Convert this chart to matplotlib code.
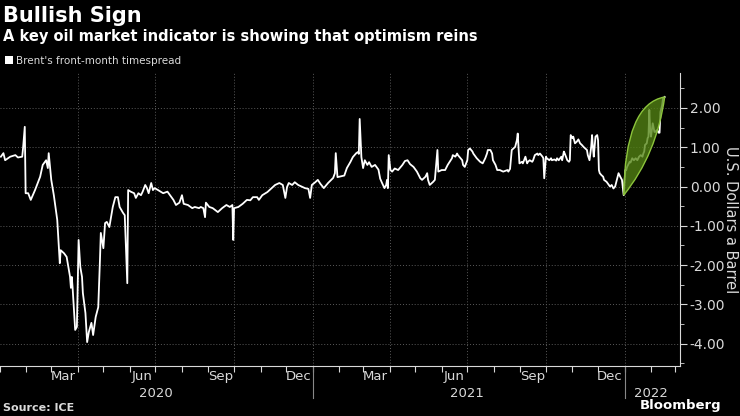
import matplotlib
matplotlib.use("Agg")
import matplotlib.pyplot as plt
import matplotlib.dates as mdates
from matplotlib.path import Path
from matplotlib.patches import PathPatch
import matplotlib.transforms as mtransforms
import numpy as np
import pandas as pd

# Brent front-month timespread, USD a barrel
dates = [
    # 2020
    "2020-01-02", "2020-01-05", "2020-01-07", "2020-01-13", "2020-01-19", "2020-01-22", "2020-01-27", "2020-01-28", "2020-01-30", "2020-01-31",
    "2020-02-03", "2020-02-06", "2020-02-11", "2020-02-17", "2020-02-20", "2020-02-24", "2020-02-26", "2020-02-27",
    "2020-03-01", "2020-03-04", "2020-03-08", "2020-03-11", "2020-03-12", "2020-03-16", "2020-03-19", "2020-03-23", "2020-03-24", "2020-03-25", "2020-03-26", "2020-03-29", "2020-03-31",
    "2020-04-02", "2020-04-04", "2020-04-06", "2020-04-07", "2020-04-10", "2020-04-12", "2020-04-14", "2020-04-17", "2020-04-19", "2020-04-22", "2020-04-25", "2020-04-27", "2020-04-28",
    "2020-05-01", "2020-05-03", "2020-05-05", "2020-05-08", "2020-05-10", "2020-05-12", "2020-05-15", "2020-05-18", "2020-05-20", "2020-05-24", "2020-05-26", "2020-05-29", "2020-05-30",
    "2020-06-02", "2020-06-06", "2020-06-08", "2020-06-11", "2020-06-14", "2020-06-16", "2020-06-19", "2020-06-21", "2020-06-23", "2020-06-26", "2020-06-28", "2020-06-30",
    "2020-07-04", "2020-07-10", "2020-07-15", "2020-07-18", "2020-07-22", "2020-07-25", "2020-07-29",
    "2020-08-01", "2020-08-03", "2020-08-08", "2020-08-13", "2020-08-16", "2020-08-21", "2020-08-23", "2020-08-26", "2020-08-28", "2020-08-29",
    "2020-09-02", "2020-09-06", "2020-09-12", "2020-09-17", "2020-09-22", "2020-09-26", "2020-09-29", "2020-09-30",
    "2020-10-01", "2020-10-06", "2020-10-11", "2020-10-16", "2020-10-20", "2020-10-23", "2020-10-28", "2020-10-30",
    "2020-11-03", "2020-11-09", "2020-11-14", "2020-11-18", "2020-11-23", "2020-11-27", "2020-11-30",
    "2020-12-02", "2020-12-04", "2020-12-08", "2020-12-11", "2020-12-15", "2020-12-20", "2020-12-23", "2020-12-27", "2020-12-29", "2020-12-31",
    # 2021
    "2021-01-04", "2021-01-07", "2021-01-10", "2021-01-14", "2021-01-19", "2021-01-25", "2021-01-27", "2021-01-28", "2021-01-30",
    "2021-02-03", "2021-02-07", "2021-02-10", "2021-02-14", "2021-02-17", "2021-02-21", "2021-02-23", "2021-02-24", "2021-02-25", "2021-02-27",
    "2021-03-01", "2021-03-03", "2021-03-06", "2021-03-08", "2021-03-11", "2021-03-15", "2021-03-19", "2021-03-21", "2021-03-23", "2021-03-26", "2021-03-28", "2021-03-29", "2021-03-30", "2021-03-31",
    "2021-04-02", "2021-04-04", "2021-04-07", "2021-04-11", "2021-04-16", "2021-04-19", "2021-04-22", "2021-04-25", "2021-04-29",
    "2021-05-03", "2021-05-07", "2021-05-09", "2021-05-13", "2021-05-15", "2021-05-16", "2021-05-18", "2021-05-22", "2021-05-24", "2021-05-27", "2021-05-28",
    "2021-06-01", "2021-06-05", "2021-06-08", "2021-06-13", "2021-06-14", "2021-06-17", "2021-06-19", "2021-06-20", "2021-06-23", "2021-06-25", "2021-06-26", "2021-06-28",
    "2021-07-01", "2021-07-02", "2021-07-04", "2021-07-07", "2021-07-08", "2021-07-12", "2021-07-16", "2021-07-19", "2021-07-22", "2021-07-24", "2021-07-25", "2021-07-28", "2021-07-30", "2021-07-31",
    "2021-08-03", "2021-08-05", "2021-08-08", "2021-08-12", "2021-08-17", "2021-08-18", "2021-08-20", "2021-08-22", "2021-08-24", "2021-08-26", "2021-08-28", "2021-08-29", "2021-08-31",
    "2021-09-03", "2021-09-04", "2021-09-07", "2021-09-09", "2021-09-10", "2021-09-12", "2021-09-15", "2021-09-16", "2021-09-18", "2021-09-21", "2021-09-22", "2021-09-24", "2021-09-27", "2021-09-28", "2021-09-29",
    "2021-10-01", "2021-10-02", "2021-10-05", "2021-10-07", "2021-10-08", "2021-10-11", "2021-10-13", "2021-10-14", "2021-10-16", "2021-10-19", "2021-10-20", "2021-10-22", "2021-10-23", "2021-10-26", "2021-10-28", "2021-10-29", "2021-10-30",
    "2021-11-01", "2021-11-02", "2021-11-04", "2021-11-06", "2021-11-08", "2021-11-10", "2021-11-12", "2021-11-14", "2021-11-16", "2021-11-18", "2021-11-19", "2021-11-21", "2021-11-23", "2021-11-24", "2021-11-25", "2021-11-26", "2021-11-28", "2021-11-30",
    "2021-12-01", "2021-12-02", "2021-12-03", "2021-12-05", "2021-12-07", "2021-12-08", "2021-12-11", "2021-12-13", "2021-12-15", "2021-12-17", "2021-12-19", "2021-12-21", "2021-12-23", "2021-12-25", "2021-12-27", "2021-12-29", "2021-12-31",
    # 2022
    "2022-01-02", "2022-01-03", "2022-01-04", "2022-01-07", "2022-01-08", "2022-01-10", "2022-01-12", "2022-01-14", "2022-01-16", "2022-01-18", "2022-01-20", "2022-01-22", "2022-01-23", "2022-01-24", "2022-01-25", "2022-01-27", "2022-01-28", "2022-01-29", "2022-01-30", "2022-01-31",
    "2022-02-01", "2022-02-02", "2022-02-03", "2022-02-05", "2022-02-06", "2022-02-08", "2022-02-10", "2022-02-11", "2022-02-12", "2022-02-14", "2022-02-15", "2022-02-17",
]

spread = [
    # 2020
    0.76, 0.85, 0.67, 0.76, 0.80, 0.74, 0.76, 0.98, 1.52, -0.17,
    -0.17, -0.34, -0.09, 0.25, 0.55, 0.67, 0.47, 0.85,
    0.17, -0.22, -0.85, -1.95, -1.62, -1.70, -1.79, -2.30, -2.58, -2.30, -2.58, -3.65, -3.57,
    -1.36, -2.05, -2.30, -2.71, -3.22, -3.96, -3.70, -3.47, -3.78, -3.32, -3.07, -1.87, -1.18,
    -1.57, -0.93, -0.90, -1.03, -0.78, -0.52, -0.27, -0.27, -0.52, -0.67, -0.73, -2.46, -0.09,
    -0.13, -0.17, -0.29, -0.17, -0.22, -0.13, 0.04, -0.04, -0.17, 0.09, -0.09, -0.04,
    -0.09, -0.17, -0.13, -0.22, -0.34, -0.47, -0.41,
    -0.22, -0.44, -0.47, -0.55, -0.52, -0.55, -0.52, -0.55, -0.78, -0.41,
    -0.52, -0.55, -0.65, -0.55, -0.47, -0.52, -0.47, -1.36,
    -0.55, -0.52, -0.44, -0.34, -0.35, -0.27, -0.27, -0.34,
    -0.22, -0.14, -0.04, 0.04, 0.09, 0.04, -0.29,
    -0.01, 0.09, 0.04, 0.11, 0.04, -0.01, -0.04, -0.06, -0.29, 0.04,
    # 2021
    0.11, 0.17, 0.07, -0.04, 0.09, 0.22, 0.34, 0.85, 0.24,
    0.26, 0.28, 0.47, 0.62, 0.75, 0.85, 0.88, 0.83, 1.72, 0.75,
    0.47, 0.67, 0.55, 0.62, 0.50, 0.55, 0.43, 0.20, 0.10, -0.04, 0.04, 0.17, -0.04, 0.80,
    0.42, 0.38, 0.46, 0.42, 0.55, 0.65, 0.67, 0.57, 0.50,
    0.38, 0.21, 0.17, 0.25, 0.34, 0.17, 0.04, 0.12, 0.17, 0.93, 0.38,
    0.42, 0.42, 0.55, 0.72, 0.80, 0.76, 0.84, 0.80, 0.72, 0.67, 0.55, 0.50,
    0.67, 0.93, 0.97, 0.89, 0.84, 0.72, 0.63, 0.59, 0.72, 0.84, 0.93, 0.93, 0.84, 0.67,
    0.55, 0.42, 0.42, 0.38, 0.42, 0.38, 0.45, 0.93, 0.97, 1.01, 1.18, 1.35, 0.59,
    0.63, 0.59, 0.76, 0.59, 0.63, 0.67, 0.63, 0.67, 0.80, 0.84, 0.80, 0.84, 0.76, 0.72, 0.21,
    0.76, 0.72, 0.67, 0.72, 0.67, 0.69, 0.66, 0.72, 0.67, 0.76, 0.67, 0.89, 0.84, 0.67, 0.63, 0.67, 1.31,
    1.23, 1.27, 1.10, 1.14, 1.20, 1.10, 1.06, 1.01, 0.97, 0.93, 0.80, 0.67, 1.01, 1.31, 1.01, 0.76, 1.27, 1.31,
    1.18, 0.42, 0.34, 0.29, 0.25, 0.17, 0.12, 0.06, 0.00, 0.04, -0.05, 0.00, 0.17, 0.34, 0.25, 0.17, -0.22,
    # 2022
    0.42, 0.42, 0.50, 0.63, 0.61, 0.72, 0.67, 0.72, 0.67, 0.76, 0.80, 0.76, 0.84, 0.89, 1.06, 1.10, 1.23, 1.27, 1.95, 1.44,
    1.27, 1.44, 1.61, 1.39, 1.39, 1.44, 1.37, 1.37, 1.90, 2.07, 2.24, 2.28,
]

yticks = [-4, -3, -2, -1, 0, 1, 2]
year_labels = ["2020", "2021", "2022"]
year_label_dates = ["2020-07-01", "2021-07-01", "2022-02-01"]

x = pd.to_datetime(dates)
y = np.array(spread)

fg = "#d9d9d9"
grid_col = "#5a5a5a"

fig = plt.figure(figsize=(7.4, 4.16), dpi=100, facecolor="black")
ax = fig.add_axes([0.0, 0.12, 0.919, 0.7045])
ax.set_facecolor("black")

ax.plot(x, y, color="white", lw=1.3, zorder=3)

# green leaf highlighting the recent rally
i0 = int(np.argmin(np.where(x >= pd.Timestamp("2021-12-01"), y, np.inf)))
p0 = np.array([mdates.date2num(x[i0]), y[i0]])
p2 = np.array([mdates.date2num(x[-1]), y[-1]])
d = p2 - p0
c_up = p0 + d * np.array([0.03, 0.93])
c_lo = p0 + d * np.array([0.81, 0.42])
verts = [p0, c_up, p2, c_lo, p0, p0]
codes = [Path.MOVETO, Path.CURVE3, Path.CURVE3, Path.CURVE3, Path.CURVE3, Path.CLOSEPOLY]
leaf = PathPatch(Path(verts, codes), facecolor=(0.33, 0.52, 0.08, 0.78),
                 edgecolor="#8cc43c", lw=1.0, zorder=4)
ax.add_patch(leaf)

ax.set_xlim(pd.Timestamp("2020-01-01"), pd.Timestamp("2022-03-07"))
ax.set_ylim(-4.57, 2.89)

# dotted grid
for v in yticks:
    ax.axhline(v, color=grid_col, lw=0.7, ls=(0, (1, 2)), zorder=1)
for q in pd.date_range("2020-04-01", "2022-01-01", freq="QS"):
    ax.axvline(q, color=grid_col, lw=0.7, ls=(0, (1, 2)), zorder=1)

for s in ["left", "top"]:
    ax.spines[s].set_visible(False)
ax.spines["right"].set_color(fg)
ax.spines["bottom"].set_color(fg)

ax.yaxis.tick_right()
ax.set_yticks(yticks)
ax.set_yticklabels(["%.2f" % v for v in yticks])
ax.set_yticks(np.arange(-4.5, 2.6, 0.5), minor=True)
ax.tick_params(axis="y", which="major", colors=fg, labelsize=10, length=5, pad=2)
ax.tick_params(axis="y", which="minor", colors=fg, length=3)

ax.xaxis.set_major_locator(mdates.MonthLocator())
ax.xaxis.set_major_formatter(plt.NullFormatter())
ax.xaxis.set_minor_locator(mdates.MonthLocator(bymonth=[3, 6, 9, 12], bymonthday=15))
ax.xaxis.set_minor_formatter(mdates.DateFormatter("%b"))
ax.tick_params(axis="x", which="major", colors=fg, length=4)
ax.tick_params(axis="x", which="minor", colors=fg, length=0, labelsize=9.5, pad=3)

# year row and separators
trans = mtransforms.blended_transform_factory(ax.transData, ax.transAxes)
for lab, dt in zip(year_labels, year_label_dates):
    ax.text(pd.Timestamp(dt), -0.095, lab, transform=trans, ha="center", va="center",
            color=fg, fontsize=9.5)
for dt in ["2021-01-01", "2022-01-01"]:
    ax.plot([pd.Timestamp(dt)] * 2, [0, -0.11], transform=trans, color="#888888",
            lw=0.8, clip_on=False)

# headings
fig.text(0.004, 0.985, "Bullish Sign", color="white", fontsize=15, fontweight="bold",
         ha="left", va="top")
fig.text(0.004, 0.93, "A key oil market indicator is showing that optimism reins", color="white",
         fontsize=10.5, fontweight="bold", ha="left", va="top")
fig.patches.append(plt.Rectangle((0.007, 1 - 64 / 416), 8 / 740, 8 / 416, transform=fig.transFigure,
                                 facecolor="white", edgecolor="none"))
fig.text(0.021, 1 - 61 / 416, "Brent's front-month timespread", color=fg, fontsize=7.5,
         ha="left", va="center")

fig.text(730 / 740, 1 - 220 / 416, "U.S. Dollars a Barrel", color=fg, fontsize=10.5,
         rotation=270, ha="center", va="center")

fig.text(0.004, 1 - 408 / 416, "Source: ICE", color=fg, fontsize=8, fontweight="bold",
         ha="left", va="center")
fig.text(0.975, 1 - 406 / 416, "Bloomberg", color="white", fontsize=9.5, fontweight="bold",
         ha="right", va="center")

fig.savefig("out.png", dpi=100, facecolor="black")
